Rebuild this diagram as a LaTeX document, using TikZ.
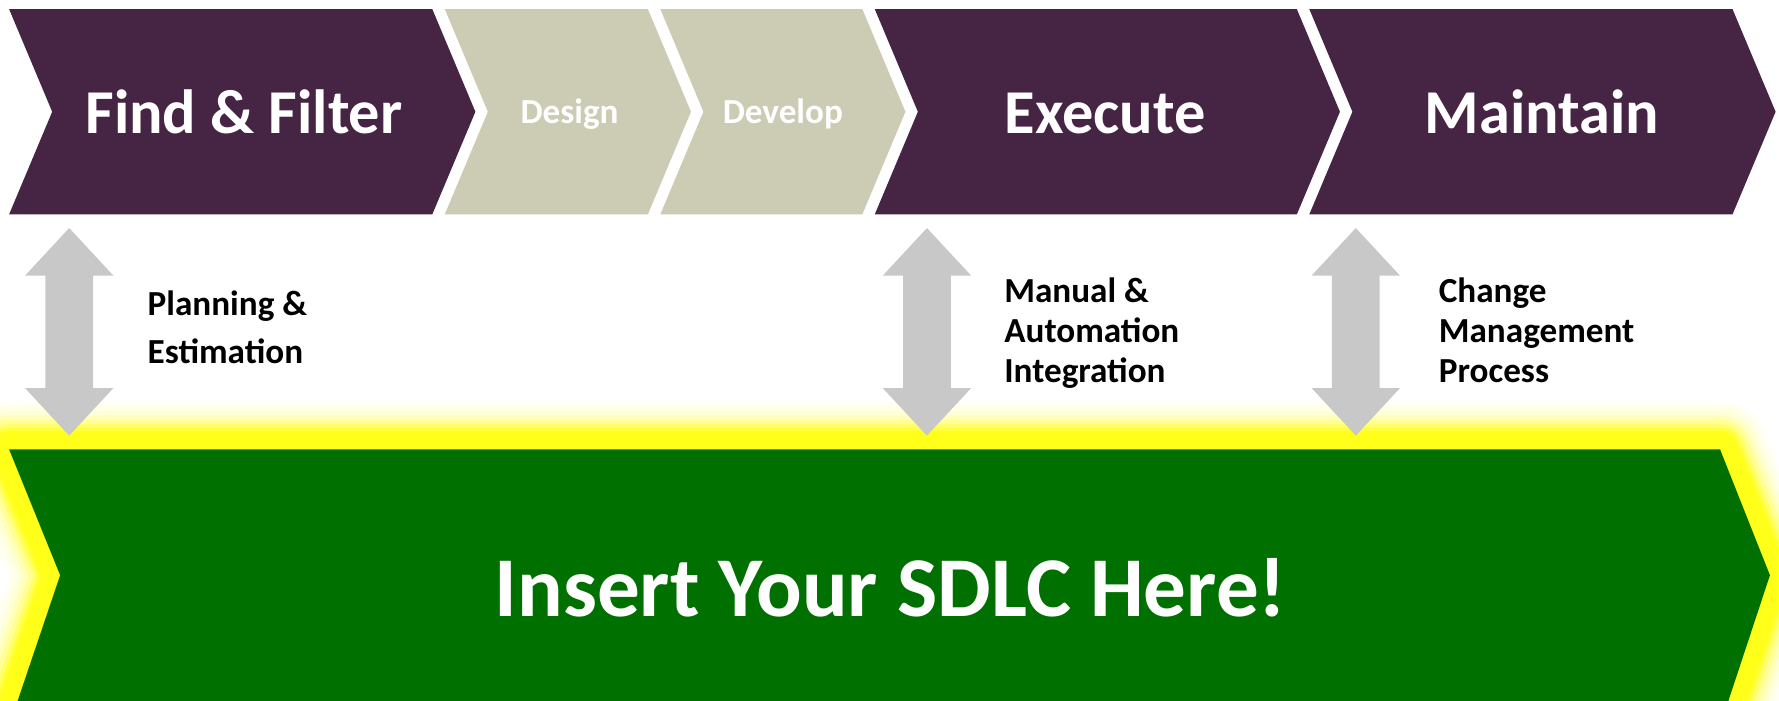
\documentclass[tikz,border=0pt]{standalone}
\usepackage{fontspec}
\setmainfont{Carlito}
\definecolor{plum}{RGB}{70,36,68}
\definecolor{beige}{RGB}{204,203,179}
\definecolor{leaf}{RGB}{0,112,0}
\definecolor{glow}{RGB}{255,255,25}
\definecolor{arrowgray}{RGB}{200,200,200}
\tikzset{
  phasetxt/.style={text=white, font=\bfseries\fontsize{55}{60}\selectfont, inner sep=0pt, anchor=base},
  smalltxt/.style={text=white, font=\bfseries\fontsize{31}{36}\selectfont, inner sep=0pt, anchor=base},
  lbl/.style={text=black, font=\bfseries\fontsize{31}{35}\selectfont, inner sep=0pt, align=left, anchor=base west},
  dblarr/.pic={\fill[arrowgray] (0,-91.5) -- (39,-49.5) -- (21,-49.5) -- (21,49.5) -- (39,49.5) -- (0,91.5) -- (-39,49.5) -- (-21,49.5) -- (-21,-49.5) -- (-39,-49.5) -- cycle;}
}
\begin{document}
\begin{tikzpicture}[x=1pt,y=-1pt]
\useasboundingbox (0,0) rectangle (1568,617);
\clip (0,0) rectangle (1568,617);
\fill[white] (0,0) rectangle (1568,617);
% glow around the green chevron
\foreach \w/\c in {84/5,76/10,68/18,60/30,52/46,44/66,38/84,32/100}{
  \draw[glow!\c!white, line width=\w pt, line join=round]
    (8,396) -- (1516,396) -- (1560,507) -- (1516,640) -- (8,640) -- (53,507) -- cycle;
}
\fill[leaf] (8,396) -- (1516,396) -- (1560,507) -- (1516,640) -- (8,640) -- (53,507) -- cycle;
\node[phasetxt, font=\bfseries\fontsize{75}{80}\selectfont] (sdlc) at (785,543) {Insert Your SDLC Here!};
% top chevrons
\fill[plum]  (8,8) -- (381,8) -- (419,98.5) -- (381,189) -- (8,189) -- (46,98.5) -- cycle;
\fill[beige] (392,8) -- (571,8) -- (609,98.5) -- (571,189) -- (392,189) -- (430,98.5) -- cycle;
\fill[beige] (582,8) -- (760,8) -- (798,98.5) -- (760,189) -- (582,189) -- (620,98.5) -- cycle;
\fill[plum]  (771,8) -- (1143,8) -- (1181,98.5) -- (1143,189) -- (771,189) -- (809,98.5) -- cycle;
\fill[plum]  (1154,8) -- (1527,8) -- (1565,98.5) -- (1527,189) -- (1154,189) -- (1192,98.5) -- cycle;
\node[phasetxt] (ff) at (215,118) {Find \& Filter};
\node[smalltxt] (de) at (502,109) {Design};
\node[smalltxt] (dv) at (690,109) {Develop};
\node[phasetxt] (ex) at (974,118) {Execute};
\node[phasetxt] (ma) at (1359,118) {Maintain};
% double arrows
\pic at (61,292.5) {dblarr};
\pic at (817,292.5) {dblarr};
\pic at (1195,292.5) {dblarr};
% labels
\node[lbl, font=\bfseries\fontsize{31}{42}\selectfont] (pe) at (130,320) {Planning \&\\Estimation};
\node[lbl] (ma2) at (885,337) {Manual \&\\Automation\\Integration};
\node[lbl] (cm) at (1268,337) {Change\\Management\\Process};
\end{tikzpicture}
\end{document}
